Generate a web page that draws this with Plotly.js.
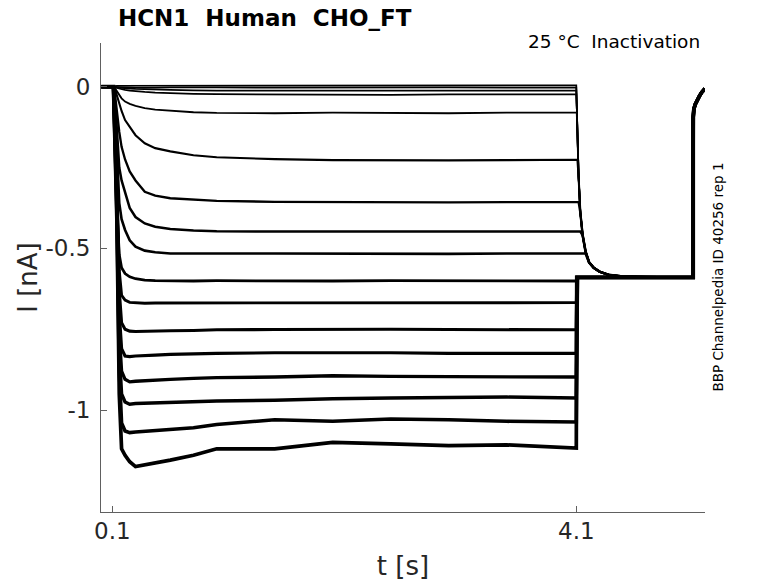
<!DOCTYPE html>
<html>
<head>
<meta charset="utf-8">
<script src="https://cdn.plot.ly/plotly-3.0.1.min.js"></script>
<style>
  html, body { margin: 0; padding: 0; background: #fff; }
  #plot { width: 778px; height: 583px; }
</style>
</head>
<body>
<div id="plot"></div>
<script>
// sample times of the activating step (s)
const T_STEP = [0.005, 0.11, 0.125, 0.14, 0.16, 0.18, 0.21, 0.25, 0.3, 0.38, 0.47, 0.6, 0.8, 1.0, 1.5, 2.0, 2.5, 3.0, 3.5, 4.1];

// current (nA) of each sweep at T_STEP
const trace01 = [0, 0, 0.002, 0.003, 0.003, 0.003, 0.003, 0.004, 0.003, 0.004, 0.003, 0.004, 0.003, 0.004, 0.003, 0.004, 0.003, 0.004, 0.003, 0.004];
const trace02 = [0, 0, 0, -0.001, -0.001, -0.002, -0.002, -0.002, -0.003, -0.002, -0.003, -0.002, -0.003, -0.002, -0.003, -0.002, -0.003, -0.002, -0.003, -0.003];
const trace03 = [0, 0, -0.001, -0.002, -0.003, -0.004, -0.005, -0.006, -0.007, -0.008, -0.009, -0.010, -0.011, -0.012, -0.012, -0.012, -0.013, -0.012, -0.012, -0.012];
const trace04 = [0, 0, -0.002, -0.004, -0.006, -0.008, -0.010, -0.012, -0.014, -0.016, -0.018, -0.020, -0.022, -0.023, -0.024, -0.024, -0.025, -0.024, -0.024, -0.024];
const trace05 = [0, 0, -0.006, -0.015, -0.027, -0.036, -0.046, -0.053, -0.059, -0.066, -0.071, -0.075, -0.079, -0.081, -0.082, -0.080, -0.081, -0.082, -0.080, -0.080];
const trace06 = [0, 0, -0.010, -0.030, -0.055, -0.075, -0.103, -0.125, -0.150, -0.175, -0.190, -0.200, -0.212, -0.218, -0.224, -0.227, -0.228, -0.228, -0.227, -0.226];
const trace07 = [0, 0, -0.030, -0.080, -0.140, -0.186, -0.225, -0.262, -0.290, -0.325, -0.337, -0.345, -0.350, -0.353, -0.356, -0.357, -0.357, -0.358, -0.357, -0.357];
const trace08 = [0, 0, -0.050, -0.140, -0.250, -0.290, -0.330, -0.375, -0.403, -0.423, -0.433, -0.440, -0.445, -0.447, -0.448, -0.448, -0.449, -0.448, -0.448, -0.448];
const trace09 = [0, 0, -0.080, -0.220, -0.360, -0.410, -0.443, -0.475, -0.495, -0.507, -0.512, -0.516, -0.517, -0.516, -0.516, -0.517, -0.516, -0.517, -0.516, -0.516];
const trace10 = [0, 0, -0.120, -0.380, -0.520, -0.560, -0.578, -0.588, -0.594, -0.598, -0.600, -0.601, -0.601, -0.600, -0.601, -0.601, -0.600, -0.601, -0.601, -0.601];
const trace11 = [0, 0, -0.130, -0.300, -0.570, -0.645, -0.660, -0.667, -0.669, -0.670, -0.669, -0.669, -0.668, -0.668, -0.669, -0.668, -0.668, -0.669, -0.668, -0.668];
const trace12 = [0, 0, -0.150, -0.320, -0.630, -0.730, -0.750, -0.756, -0.757, -0.757, -0.756, -0.755, -0.754, -0.752, -0.751, -0.750, -0.750, -0.751, -0.752, -0.752];
const trace13 = [0, 0, -0.160, -0.340, -0.700, -0.810, -0.833, -0.835, -0.833, -0.831, -0.830, -0.828, -0.826, -0.825, -0.823, -0.822, -0.823, -0.825, -0.824, -0.825];
const trace14 = [0, 0, -0.170, -0.360, -0.760, -0.880, -0.905, -0.913, -0.911, -0.909, -0.907, -0.905, -0.902, -0.900, -0.898, -0.894, -0.896, -0.897, -0.896, -0.898];
const trace15 = [0, 0, -0.180, -0.380, -0.820, -0.950, -0.975, -0.982, -0.980, -0.979, -0.978, -0.977, -0.975, -0.972, -0.970, -0.965, -0.963, -0.962, -0.960, -0.963];
const trace16 = [0, 0, -0.190, -0.400, -0.880, -1.040, -1.065, -1.070, -1.068, -1.066, -1.064, -1.062, -1.055, -1.045, -1.030, -1.035, -1.028, -1.030, -1.035, -1.037];
const trace17 = [0, 0, -0.200, -0.420, -0.950, -1.120, -1.140, -1.160, -1.175, -1.170, -1.163, -1.155, -1.140, -1.120, -1.120, -1.100, -1.105, -1.110, -1.108, -1.118];

const SWEEPS = [trace01, trace02, trace03, trace04, trace05, trace06, trace07, trace08, trace09,
                trace10, trace11, trace12, trace13, trace14, trace15, trace16, trace17];

// tail after the step back at 4.1 s
const TAIL_T = [4.104, 4.11, 4.12, 4.135, 4.155, 4.18, 4.21, 4.25, 4.3, 4.38, 4.5, 4.7, 4.9, 5.108];
const TAIL_FALL = [-0.06, -0.15, -0.28, -0.39, -0.46, -0.51, -0.543, -0.56, -0.572, -0.582, -0.587, -0.589, -0.59, -0.59];
const TAIL_LEVEL = -0.59;

// recovery after the last step at 5.108 s
const RECOVERY_T = [5.108, 5.113, 5.125, 5.14, 5.16, 5.18, 5.2, 5.209];
const RECOVERY_I = [-0.095, -0.07, -0.055, -0.042, -0.03, -0.018, -0.01, -0.006];

const INK = '#262626';
const AXIS = '#606060';

const traces = SWEEPS.map(sweep => {
    const level = sweep[sweep.length - 1];
    // sweeps above the tail level fall into it, the others jump straight to it
    const tail = TAIL_FALL.map(v => level > TAIL_LEVEL ? Math.min(level, v) : TAIL_LEVEL);
    return {
        x: T_STEP.concat(TAIL_T, RECOVERY_T),
        y: sweep.concat(tail, RECOVERY_I),
        mode: 'lines',
        type: 'scatter',
        // noisier (larger) sweeps look thicker in the recording
        line: { color: '#000', width: 1.7 + 1.8 * Math.abs(level) },
        hoverinfo: 'skip'
    };
});

const layout = {
    width: 778,
    height: 583,
    margin: { l: 101, r: 73, t: 43, b: 71 },
    paper_bgcolor: '#fff',
    plot_bgcolor: '#fff',
    showlegend: false,
    font: { family: 'DejaVu Sans', color: INK },
    title: {
        text: '<b>HCN1\u00a0\u00a0Human\u00a0\u00a0CHO_FT</b>',
        font: { size: 23, color: '#000' },
        xref: 'paper', x: 0.271, xanchor: 'center',
        yref: 'container', y: 0.969, yanchor: 'middle'
    },
    xaxis: {
        range: [0.0026, 5.2095],
        tickvals: [0.1, 4.1],
        ticktext: ['0.1', '4.1'],
        ticks: 'inside', ticklen: 6, tickcolor: AXIS,
        showline: true, linecolor: AXIS, linewidth: 1,
        showgrid: false, zeroline: false,
        tickfont: { size: 23, color: INK },
        ticklabelstandoff: -2,
        title: { text: 't [s]', font: { size: 26, color: INK }, standoff: 14 }
    },
    yaxis: {
        range: [-1.3155, 0.1352],
        tickvals: [-1, -0.5, 0],
        ticktext: ['-1', '-0.5', '0'],
        ticks: 'inside', ticklen: 6, tickcolor: AXIS,
        showline: true, linecolor: AXIS, linewidth: 1,
        showgrid: false, zeroline: false,
        tickfont: { size: 23, color: INK },
        ticklabelstandoff: 5,
        title: { text: 'I [nA]', font: { size: 26, color: INK }, standoff: 0 }
    },
    annotations: [{
        text: '25 °C\u00a0\u00a0Inactivation',
        xref: 'paper', yref: 'paper', x: 0.995, y: 1.004,
        xanchor: 'right', yanchor: 'middle', showarrow: false,
        font: { size: 18.5, color: '#000' }
    }, {
        text: 'BBP Channelpedia ID 40256 rep 1',
        xref: 'paper', yref: 'paper', x: 1.02, y: 0.5,
        xanchor: 'center', yanchor: 'middle', textangle: -90, showarrow: false,
        font: { size: 13.5, color: '#000' }
    }]
};

Plotly.newPlot('plot', traces, layout, { staticPlot: true, displayModeBar: false });
</script>
</body>
</html>
